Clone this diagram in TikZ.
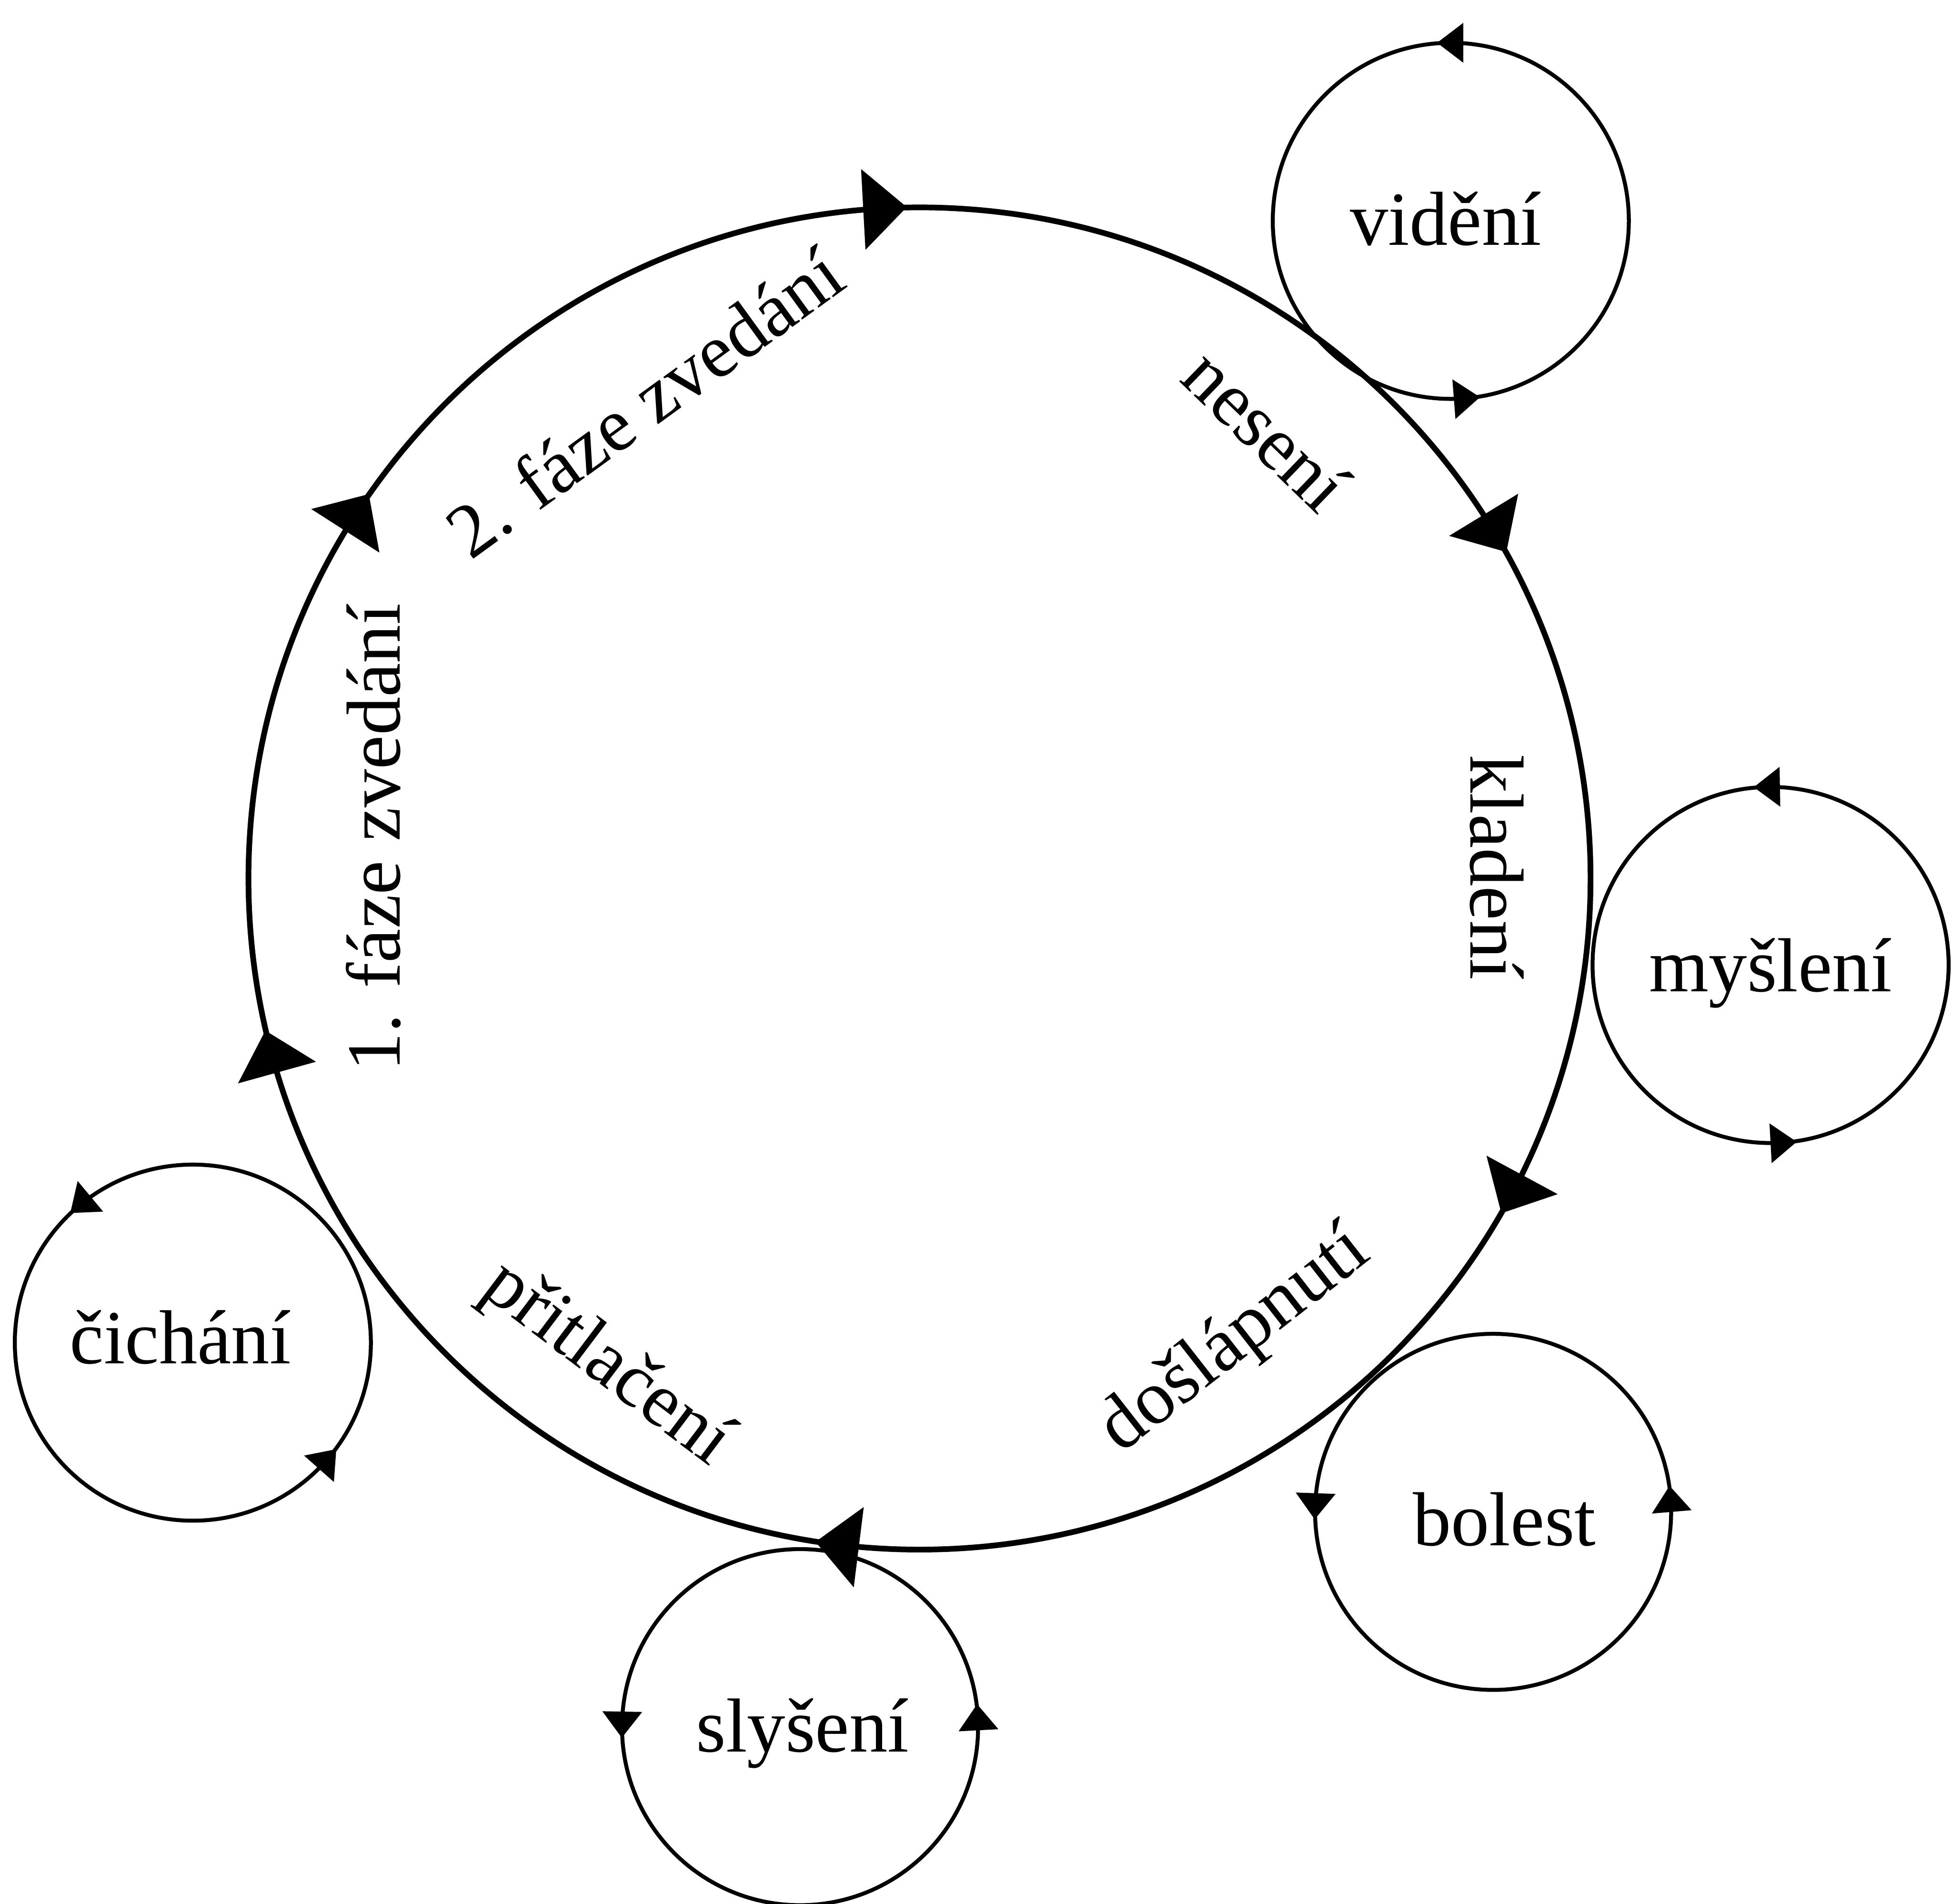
\documentclass[tikz,border=0pt]{standalone}
\usepackage{fontspec}
\setmainfont{Liberation Serif}
\begin{document}
\begin{tikzpicture}[x=0.01cm,y=0.01cm,
  txt/.style={font=\fontsize{17.5}{21}\selectfont, inner sep=0pt},
  bigring/.style={circle, draw, line width=1.3pt, minimum size=10.78cm, inner sep=0pt, outer sep=0pt},
  sense/.style={circle, draw, line width=0.9pt, minimum size=2.86cm, inner sep=0pt, outer sep=0pt},
  bigtri/.pic={\fill (0.18cm,0cm) -- (-0.17cm,0.325cm) -- (-0.17cm,-0.325cm) -- cycle;},
  smalltri/.pic={\fill (0.11cm,0cm) -- (-0.10cm,0.16cm) -- (-0.10cm,-0.16cm) -- cycle;},
]
\useasboundingbox (0,0) rectangle (1568,1530);

% main cycle
\node[bigring] (big) at (739,824) {};
\foreach \a in {93.1,31.4,-28.4,-97.1,195.5,147.4}{
  \pic[rotate=\a-90] at (big.\a) {bigtri};
}

% sense circles
\node[sense] (vid) at (1166,1352.5) {};
\node[sense] (mys) at (1423,754.5) {};
\node[sense] (bol) at (1200,315) {};
\node[sense] (sly) at (643,142) {};
\node[sense] (cich) at (155,451) {};

\pic[rotate=180] at (vid.90) {smalltri};
\pic[rotate=4.4] at (vid.-85.6) {smalltri};
\pic[rotate=181] at (mys.91) {smalltri};
\pic[rotate=3.2] at (mys.-86.8) {smalltri};
\pic[rotate=268] at (bol.178) {smalltri};
\pic[rotate=94.8] at (bol.4.8) {smalltri};
\pic[rotate=269] at (sly.179) {smalltri};
\pic[rotate=93] at (sly.3) {smalltri};
\pic[rotate=219.8] at (cich.129.8) {smalltri};
\pic[rotate=48.5] at (cich.-41.5) {smalltri};

% texts in circles
\node[txt, anchor=base] (tvid) at (1162,1333) {vidění};
\node[txt, anchor=base] (tmys) at (1423,733) {myšlení};
\node[txt, anchor=base] (tbol) at (1209,288) {bolest};
\node[txt, anchor=base] (tsly) at (645,122) {slyšení};
\node[txt, anchor=base] (tcich) at (145,434) {čichání};

% phase labels
\node[txt, rotate=36] (l2) at (518,1207) {2. fáze zvedání};
\node[txt, rotate=-44] (lnes) at (1018,1185) {nesení};
\node[txt, rotate=-90] (lkla) at (1203,833) {kladení};
\node[txt, rotate=38] (ldos) at (993,452) {došlápnutí};
\node[txt, rotate=-37] (lpri) at (487,433) {přitlačení};
\node[txt, rotate=90] (l1) at (300,857) {1. fáze zvedání};
\end{tikzpicture}
\end{document}
